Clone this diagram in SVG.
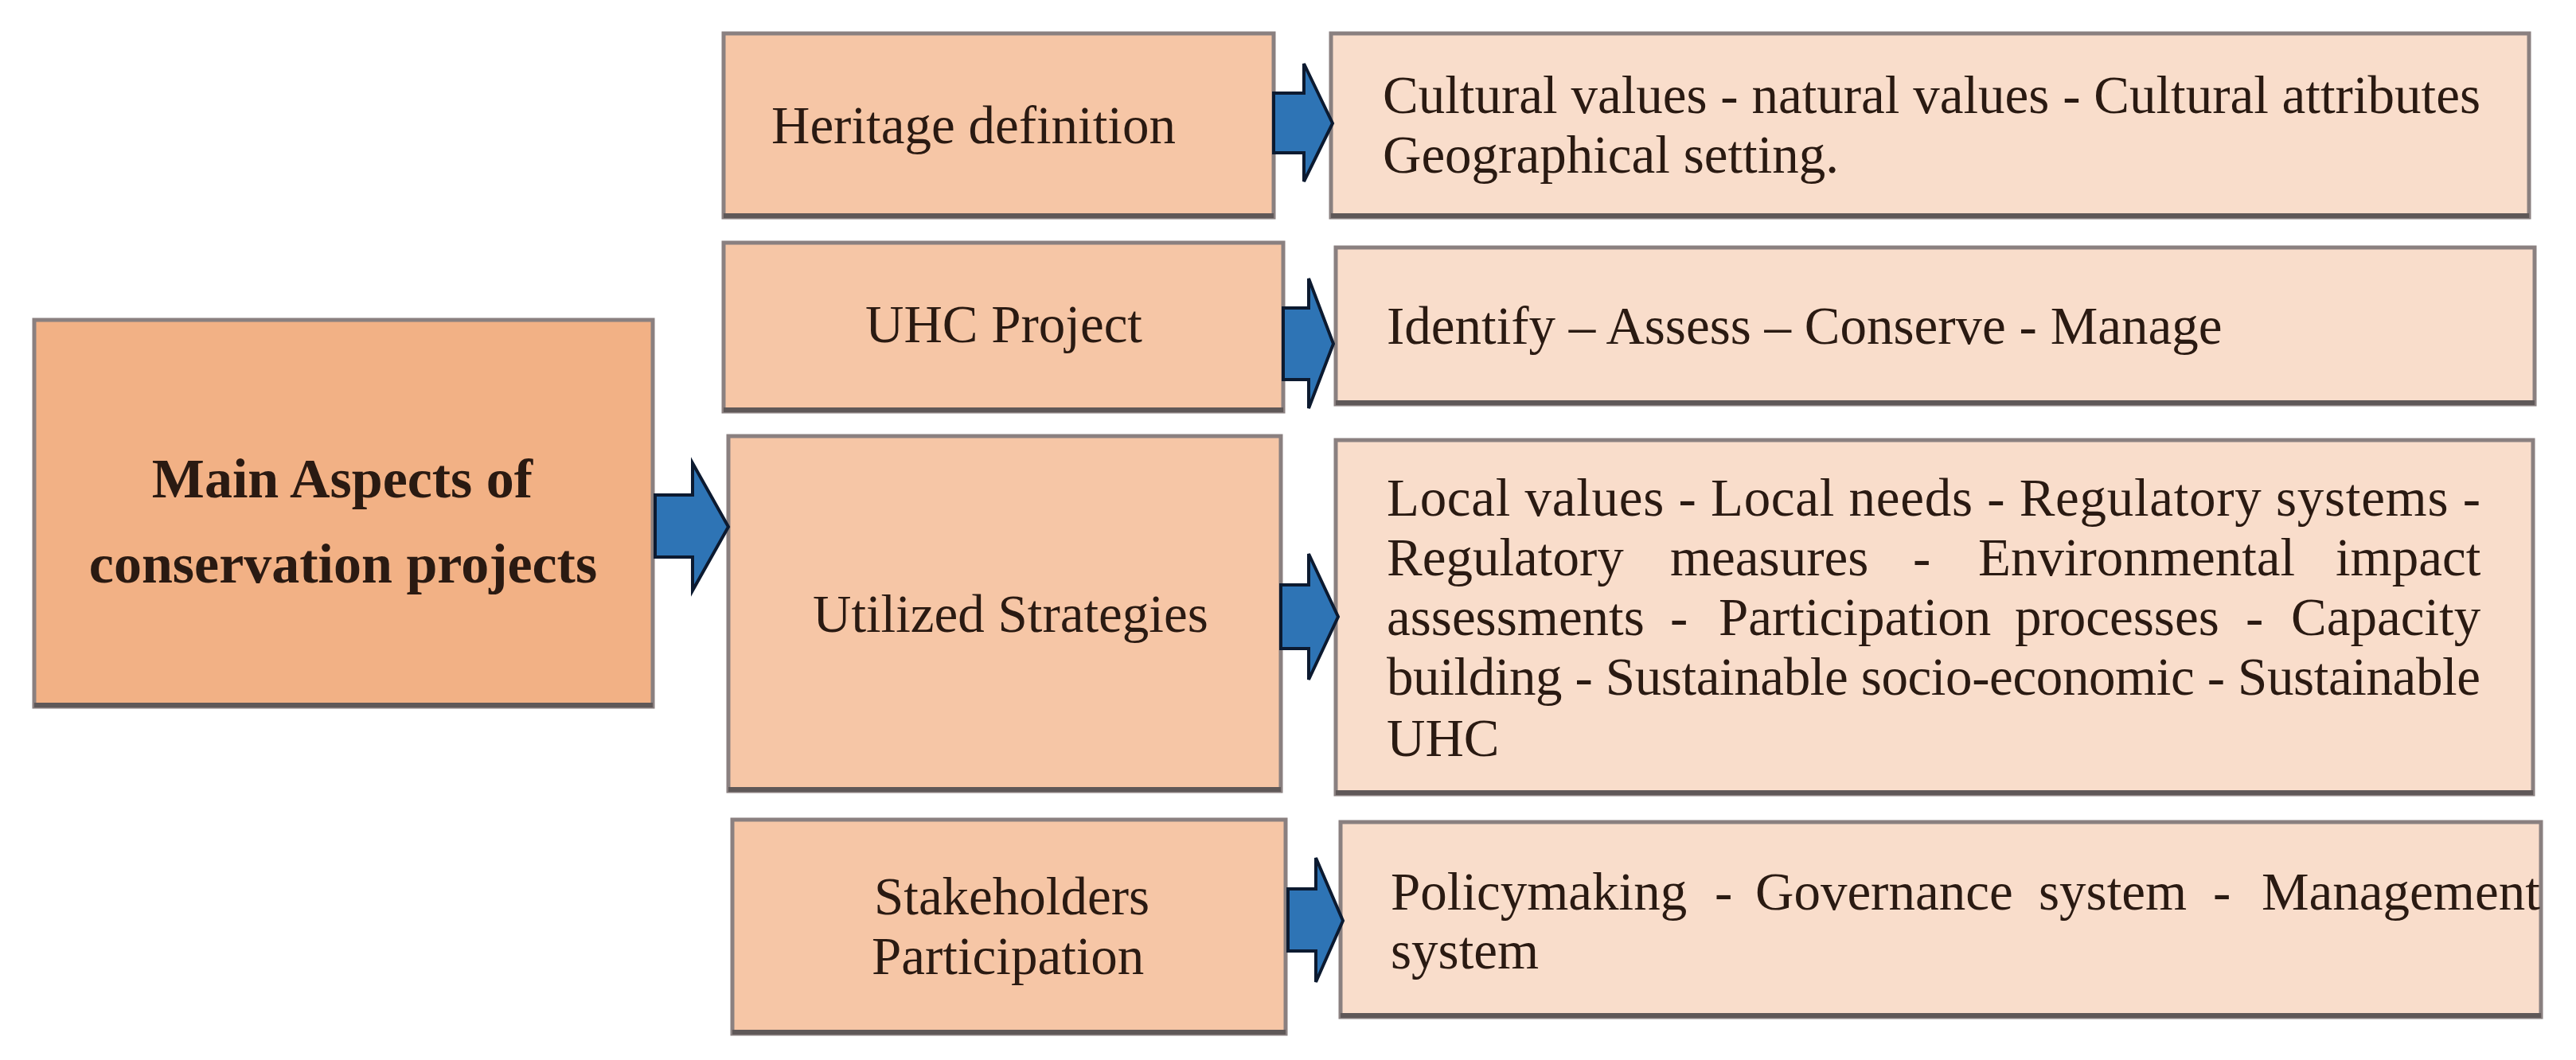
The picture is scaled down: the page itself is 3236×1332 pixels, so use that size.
<svg xmlns="http://www.w3.org/2000/svg" width="3236" height="1332" viewBox="0 0 3236 1332">
<style>
.bx{stroke:#8a8080;stroke-width:5}
.main{fill:#F2B185}
.mid{fill:#F6C6A6}
.rt{fill:#F9DDCB}
.sh{stroke:#5f5858;stroke-width:6;fill:none}
.t{font-family:"Liberation Serif","Times New Roman",serif;font-size:67px;fill:#2a1a12}
.tb{font-family:"Liberation Serif","Times New Roman",serif;font-size:70px;font-weight:bold;fill:#2a1a12}
.ar{fill:#2E74B5;stroke:#0c1a30;stroke-width:4;stroke-linejoin:miter}
</style>
<rect width="3236" height="1332" fill="#ffffff"/>
<g id="main">
<rect class="bx main" x="43" y="402" width="777" height="486"/>
<line class="sh" x1="43" y1="886" x2="820" y2="886"/>
<text class="tb" x="430" y="625" text-anchor="middle">Main Aspects of</text>
<text class="tb" x="431" y="732" text-anchor="middle">conservation projects</text>
</g>
<g id="heritage">
<rect class="bx mid" x="909" y="42" width="691" height="231"/>
<line class="sh" x1="909" y1="271" x2="1600" y2="271"/>
<text class="t" x="969" y="180">Heritage definition</text>
</g>
<g id="uhc">
<rect class="bx mid" x="909" y="305" width="703" height="212"/>
<line class="sh" x1="909" y1="515" x2="1612" y2="515"/>
<text class="t" x="1087" y="430">UHC Project</text>
</g>
<g id="utilized">
<rect class="bx mid" x="915" y="548" width="694" height="446"/>
<line class="sh" x1="915" y1="992" x2="1609" y2="992"/>
<text class="t" x="1021" y="794">Utilized Strategies</text>
</g>
<g id="stakeholders">
<rect class="bx mid" x="920" y="1030" width="695" height="269"/>
<line class="sh" x1="920" y1="1297" x2="1615" y2="1297"/>
<text class="t" x="1098" y="1149">Stakeholders</text>
<text class="t" x="1095" y="1224">Participation</text>
</g>
<g id="heritage-detail">
<rect class="bx rt" x="1672" y="42" width="1505" height="231"/>
<line class="sh" x1="1672" y1="271" x2="3177" y2="271"/>
<text class="t" x="1737" y="142" textLength="1379" lengthAdjust="spacing">Cultural values - natural values - Cultural attributes</text>
<text class="t" x="1737" y="217">Geographical setting.</text>
</g>
<g id="uhc-detail">
<rect class="bx rt" x="1678" y="311" width="1506" height="197"/>
<line class="sh" x1="1678" y1="506" x2="3184" y2="506"/>
<text class="t" x="1742" y="432">Identify – Assess – Conserve - Manage</text>
</g>
<g id="utilized-detail">
<rect class="bx rt" x="1678" y="553" width="1504" height="445"/>
<line class="sh" x1="1678" y1="996" x2="3182" y2="996"/>
<text class="t" x="1742" y="648" textLength="1374" lengthAdjust="spacing">Local values - Local needs - Regulatory systems -</text>
<text class="t" y="723"><tspan x="1742">Regulatory</tspan><tspan x="2098">measures</tspan><tspan x="2403">-</tspan><tspan x="2485">Environmental</tspan><tspan x="2934">impact</tspan></text>
<text class="t" y="798"><tspan x="1742">assessments</tspan><tspan x="2098">-</tspan><tspan x="2159">Participation</tspan><tspan x="2531">processes</tspan><tspan x="2821">-</tspan><tspan x="2878">Capacity</tspan></text>
<text class="t" x="1742" y="873" textLength="1374" lengthAdjust="spacing">building - Sustainable socio-economic - Sustainable</text>
<text class="t" x="1742" y="950">UHC</text>
</g>
<g id="stakeholders-detail">
<rect class="bx rt" x="1684" y="1033" width="1508" height="245"/>
<line class="sh" x1="1684" y1="1276" x2="3192" y2="1276"/>
<text class="t" y="1143"><tspan x="1747">Policymaking</tspan><tspan x="2154">-</tspan><tspan x="2205">Governance</tspan><tspan x="2561">system</tspan><tspan x="2780">-</tspan><tspan x="2841">Management</tspan></text>
<text class="t" x="1747" y="1217">system</text>
</g>
<g id="connectors">
<polygon class="ar" points="823,622 870,622 870,582 915,662 870,742 870,700 823,700"/>
<polygon class="ar" points="1600,117 1638,117 1638,80 1674,155 1638,228 1638,192 1600,192"/>
<polygon class="ar" points="1612,387 1644,387 1644,350 1675,432 1644,513 1644,477 1612,477"/>
<polygon class="ar" points="1609,735 1644,735 1644,696 1681,775 1644,854 1644,815 1609,815"/>
<polygon class="ar" points="1618,1117 1653,1117 1653,1078 1687,1157 1653,1234 1653,1195 1618,1195"/>
</g>
</svg>
